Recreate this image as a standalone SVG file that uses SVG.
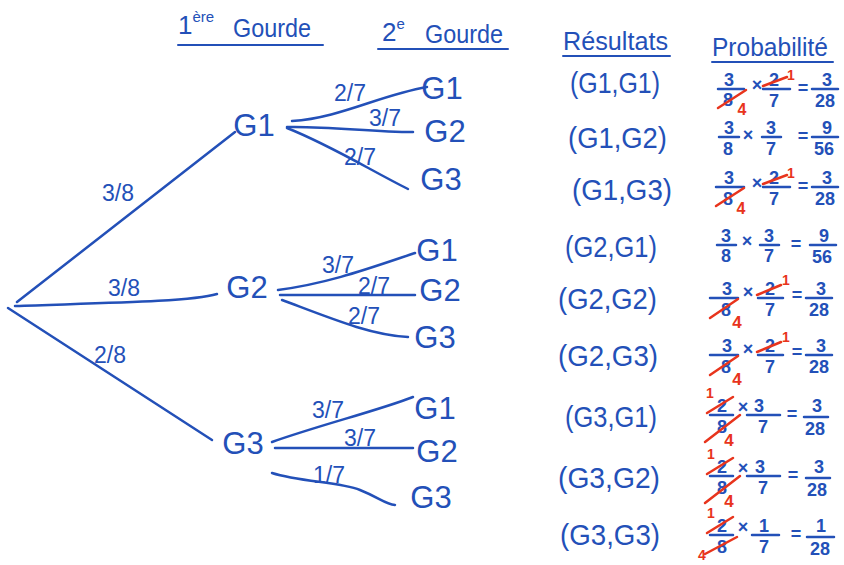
<svg xmlns="http://www.w3.org/2000/svg" width="844" height="565" viewBox="0 0 844 565">
<style>
text{font-family:"Liberation Sans",Arial,sans-serif;fill:#2350b8}
.ln{stroke:#2350b8;stroke-width:2.5;fill:none;stroke-linecap:round}
.ul{stroke:#2350b8;stroke-width:2;fill:none;stroke-linecap:round}
.bar{stroke:#2350b8;stroke-width:2.5;stroke-linecap:round}
.rl{stroke:#e8341c;stroke-width:2.5;stroke-linecap:round;fill:none}
.rt{fill:#e8341c;font-weight:bold}
.hd{font-size:26px}
.node{font-size:31px;text-anchor:middle}
.lab{font-size:23px;text-anchor:middle}
.res{font-size:30px}
.f{font-size:18px;font-weight:bold;text-anchor:middle}
</style>
<rect width="844" height="565" fill="#ffffff"/>

<g id="headers">
  <text class="hd" x="178" y="34">1<tspan font-size="15" dy="-12">ère</tspan><tspan x="233" dy="15" textLength="78" lengthAdjust="spacingAndGlyphs">Gourde</tspan></text>
  <line class="ul" x1="178" y1="45" x2="323" y2="45"/>
  <text class="hd" x="382" y="41">2<tspan font-size="15" dy="-12">e</tspan><tspan x="425" dy="14" textLength="78" lengthAdjust="spacingAndGlyphs">Gourde</tspan></text>
  <line class="ul" x1="378" y1="49" x2="508" y2="49"/>
  <text class="hd" x="563" y="50" textLength="105" lengthAdjust="spacingAndGlyphs">Résultats</text>
  <line class="ul" x1="563" y1="56" x2="670" y2="56"/>
  <text class="hd" x="712" y="56" textLength="116" lengthAdjust="spacingAndGlyphs">Probabilité</text>
  <line class="ul" x1="712" y1="62" x2="833" y2="62"/>
</g>

<g id="connectors">
  <path class="ln" d="M17,302 L235,132"/>
  <path class="ln" d="M15,306 C100,303 190,302 217,294"/>
  <path class="ln" d="M8,308 L212,440"/>
  <path class="ln" d="M292,121 C340,118 380,95 427,87"/>
  <path class="ln" d="M287,127 C330,126 370,132 413,132"/>
  <path class="ln" d="M287,128 C330,145 370,170 408,189"/>
  <path class="ln" d="M278,290 C330,283 370,268 415,253"/>
  <path class="ln" d="M280,295 L415,295"/>
  <path class="ln" d="M282,300 C330,318 370,335 408,337"/>
  <path class="ln" d="M272,442 C320,425 380,410 413,397"/>
  <path class="ln" d="M275,448 L413,448"/>
  <path class="ln" d="M272,473 C300,482 340,482 360,490 S385,504 395,505"/>
</g>

<g id="branch-labels">
  <text class="lab" x="118" y="201">3/8</text>
  <text class="lab" x="124" y="296">3/8</text>
  <text class="lab" x="110" y="363">2/8</text>
  <text class="lab" x="350" y="101">2/7</text>
  <text class="lab" x="385" y="126">3/7</text>
  <text class="lab" x="360" y="165">2/7</text>
  <text class="lab" x="338" y="273">3/7</text>
  <text class="lab" x="374" y="294">2/7</text>
  <text class="lab" x="364" y="324">2/7</text>
  <text class="lab" x="328" y="418">3/7</text>
  <text class="lab" x="360" y="446">3/7</text>
  <text class="lab" x="329" y="483">1/7</text>
</g>

<g id="n-g1"><text class="node" x="254" y="136">G1</text></g>
<g id="n-g2"><text class="node" x="247" y="298">G2</text></g>
<g id="n-g3"><text class="node" x="243" y="454">G3</text></g>
<g id="n-g1-g1"><text class="node" x="442" y="99">G1</text></g>
<g id="n-g1-g2"><text class="node" x="445" y="142">G2</text></g>
<g id="n-g1-g3"><text class="node" x="441" y="190">G3</text></g>
<g id="n-g2-g1"><text class="node" x="437" y="261">G1</text></g>
<g id="n-g2-g2"><text class="node" x="440" y="301">G2</text></g>
<g id="n-g2-g3"><text class="node" x="435" y="348">G3</text></g>
<g id="n-g3-g1"><text class="node" x="435" y="419">G1</text></g>
<g id="n-g3-g2"><text class="node" x="437" y="462">G2</text></g>
<g id="n-g3-g3"><text class="node" x="431" y="508">G3</text></g>

<g id="results">
  <text class="res" x="570" y="93" textLength="90" lengthAdjust="spacingAndGlyphs">(G1,G1)</text>
  <text class="res" x="568" y="148" textLength="99" lengthAdjust="spacingAndGlyphs">(G1,G2)</text>
  <text class="res" x="572" y="200" textLength="100" lengthAdjust="spacingAndGlyphs">(G1,G3)</text>
  <text class="res" x="565" y="257" textLength="92" lengthAdjust="spacingAndGlyphs">(G2,G1)</text>
  <text class="res" x="558" y="309" textLength="99" lengthAdjust="spacingAndGlyphs">(G2,G2)</text>
  <text class="res" x="558" y="366" textLength="100" lengthAdjust="spacingAndGlyphs">(G2,G3)</text>
  <text class="res" x="565" y="427" textLength="92" lengthAdjust="spacingAndGlyphs">(G3,G1)</text>
  <text class="res" x="558" y="488" textLength="102" lengthAdjust="spacingAndGlyphs">(G3,G2)</text>
  <text class="res" x="560" y="545" textLength="100" lengthAdjust="spacingAndGlyphs">(G3,G3)</text>
</g>

<g id="probabilities">
  <!-- row 1 -->
  <g transform="translate(0,89)">
    <text class="f" x="729" y="-3">3</text><line class="bar" x1="718" y1="0" x2="744" y2="0"/><text class="f" x="728" y="17">8</text>
    <line class="rl" x1="718" y1="19" x2="746" y2="1"/><text class="rt" x="742" y="26" font-size="16" text-anchor="middle">4</text>
    <text class="f" x="757" y="2">×</text>
    <text class="f" x="774" y="-3">2</text><line class="bar" x1="763" y1="0" x2="790" y2="0"/><text class="f" x="774" y="18">7</text>
    <line class="rl" x1="763" y1="-3" x2="787" y2="-12"/><text class="rt" x="791" y="-9" font-size="14" text-anchor="middle">1</text>
    <text class="f" x="803" y="5">=</text>
    <text class="f" x="827" y="-3">3</text><line class="bar" x1="812" y1="0" x2="838" y2="0"/><text class="f" x="825" y="18">28</text>
  </g>
  <!-- row 2 -->
  <g transform="translate(0,137)">
    <text class="f" x="729" y="-3">3</text><line class="bar" x1="719" y1="0" x2="739" y2="0"/><text class="f" x="728" y="18">8</text>
    <text class="f" x="748" y="4">×</text>
    <text class="f" x="771" y="-3">3</text><line class="bar" x1="762" y1="0" x2="781" y2="0"/><text class="f" x="771" y="18">7</text>
    <text class="f" x="803" y="5">=</text>
    <text class="f" x="827" y="-3">9</text><line class="bar" x1="812" y1="0" x2="838" y2="0"/><text class="f" x="824" y="18">56</text>
  </g>
  <!-- row 3 -->
  <g transform="translate(0,187)">
    <text class="f" x="729" y="-3">3</text><line class="bar" x1="716" y1="0" x2="744" y2="0"/><text class="f" x="728" y="18">8</text>
    <line class="rl" x1="716" y1="19" x2="744" y2="1"/><text class="rt" x="741" y="27" font-size="16" text-anchor="middle">4</text>
    <text class="f" x="757" y="2">×</text>
    <text class="f" x="774" y="-3">2</text><line class="bar" x1="763" y1="0" x2="790" y2="0"/><text class="f" x="774" y="18">7</text>
    <line class="rl" x1="763" y1="-3" x2="787" y2="-12"/><text class="rt" x="791" y="-9" font-size="14" text-anchor="middle">1</text>
    <text class="f" x="803" y="5">=</text>
    <text class="f" x="827" y="-3">3</text><line class="bar" x1="812" y1="0" x2="838" y2="0"/><text class="f" x="825" y="18">28</text>
  </g>
  <!-- row 4 -->
  <g transform="translate(0,245)">
    <text class="f" x="726" y="-3">3</text><line class="bar" x1="717" y1="0" x2="736" y2="0"/><text class="f" x="726" y="17">8</text>
    <text class="f" x="747" y="2">×</text>
    <text class="f" x="769" y="-3">3</text><line class="bar" x1="760" y1="0" x2="779" y2="0"/><text class="f" x="769" y="17">7</text>
    <text class="f" x="796" y="5">=</text>
    <text class="f" x="824" y="-3">9</text><line class="bar" x1="810" y1="0" x2="836" y2="0"/><text class="f" x="822" y="18">56</text>
  </g>
  <!-- row 5 -->
  <g transform="translate(0,298)">
    <text class="f" x="727" y="-3">3</text><line class="bar" x1="710" y1="0" x2="738" y2="0"/><text class="f" x="726" y="18">8</text>
    <line class="rl" x1="710" y1="20" x2="738" y2="1"/><text class="rt" x="737" y="30" font-size="17" text-anchor="middle">4</text>
    <text class="f" x="748" y="0">×</text>
    <text class="f" x="770" y="-3">2</text><line class="bar" x1="758" y1="0" x2="783" y2="0"/><text class="f" x="770" y="18">7</text>
    <line class="rl" x1="757" y1="-3" x2="781" y2="-13"/><text class="rt" x="786" y="-13" font-size="14" text-anchor="middle">1</text>
    <text class="f" x="797" y="3">=</text>
    <text class="f" x="821" y="-3">3</text><line class="bar" x1="806" y1="0" x2="832" y2="0"/><text class="f" x="819" y="18">28</text>
  </g>
  <!-- row 6 -->
  <g transform="translate(0,355)">
    <text class="f" x="727" y="-3">3</text><line class="bar" x1="710" y1="0" x2="738" y2="0"/><text class="f" x="726" y="18">8</text>
    <line class="rl" x1="710" y1="20" x2="738" y2="1"/><text class="rt" x="737" y="30" font-size="17" text-anchor="middle">4</text>
    <text class="f" x="748" y="0">×</text>
    <text class="f" x="770" y="-3">2</text><line class="bar" x1="758" y1="0" x2="783" y2="0"/><text class="f" x="770" y="18">7</text>
    <line class="rl" x1="757" y1="-3" x2="781" y2="-13"/><text class="rt" x="786" y="-13" font-size="14" text-anchor="middle">1</text>
    <text class="f" x="797" y="3">=</text>
    <text class="f" x="821" y="-3">3</text><line class="bar" x1="806" y1="0" x2="832" y2="0"/><text class="f" x="819" y="18">28</text>
  </g>
  <!-- row 7 -->
  <g transform="translate(0,415)">
    <text class="rt" x="710" y="-17" font-size="14" text-anchor="middle">1</text>
    <text class="f" x="722" y="-3">2</text><line class="bar" x1="710" y1="0" x2="733" y2="0"/><text class="f" x="722" y="18">8</text>
    <line class="rl" x1="707" y1="-2" x2="733" y2="-18"/>
    <line class="rl" x1="705" y1="27" x2="740" y2="0"/><text class="rt" x="729" y="31" font-size="17" text-anchor="middle">4</text>
    <text class="f" x="743" y="-2">×</text>
    <text class="f" x="759" y="-3">3</text><line class="bar" x1="747" y1="0" x2="780" y2="0"/><text class="f" x="763" y="18">7</text>
    <text class="f" x="792" y="5">=</text>
    <text class="f" x="817" y="-3">3</text><line class="bar" x1="804" y1="2" x2="828" y2="2"/><text class="f" x="815" y="20">28</text>
  </g>
  <!-- row 8 -->
  <g transform="translate(0,476)">
    <text class="rt" x="711" y="-17" font-size="14" text-anchor="middle">1</text>
    <text class="f" x="722" y="-3">2</text><line class="bar" x1="710" y1="0" x2="733" y2="0"/><text class="f" x="722" y="18">8</text>
    <line class="rl" x1="707" y1="-2" x2="733" y2="-18"/>
    <line class="rl" x1="705" y1="27" x2="740" y2="0"/><text class="rt" x="729" y="31" font-size="17" text-anchor="middle">4</text>
    <text class="f" x="743" y="-2">×</text>
    <text class="f" x="760" y="-3">3</text><line class="bar" x1="747" y1="0" x2="780" y2="0"/><text class="f" x="763" y="18">7</text>
    <text class="f" x="793" y="5">=</text>
    <text class="f" x="819" y="-3">3</text><line class="bar" x1="806" y1="2" x2="830" y2="2"/><text class="f" x="817" y="20">28</text>
  </g>
  <!-- row 9 -->
  <g transform="translate(0,535)">
    <text class="rt" x="711" y="-17" font-size="14" text-anchor="middle">1</text>
    <text class="f" x="722" y="-3">2</text><line class="bar" x1="710" y1="0" x2="733" y2="0"/><text class="f" x="722" y="18">8</text>
    <line class="rl" x1="707" y1="-2" x2="733" y2="-18"/>
    <line class="rl" x1="705" y1="19" x2="737" y2="2"/><text class="rt" x="702" y="25" font-size="14" text-anchor="middle">4</text>
    <text class="f" x="743" y="-2">×</text>
    <text class="f" x="764" y="-3">1</text><line class="bar" x1="752" y1="0" x2="779" y2="0"/><text class="f" x="764" y="18">7</text>
    <text class="f" x="796" y="5">=</text>
    <text class="f" x="821" y="-3">1</text><line class="bar" x1="807" y1="2" x2="834" y2="2"/><text class="f" x="820" y="20">28</text>
  </g>
</g>
</svg>
